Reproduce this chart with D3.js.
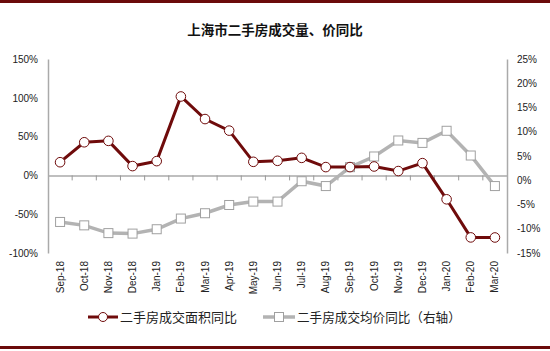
<!DOCTYPE html>
<html>
<head>
  <meta charset="utf-8">
  <script src="https://d3js.org/d3.v7.min.js"></script>
  <style>
    body { margin: 0; background: #fff; }
    svg { display: block; }
  </style>
</head>
<body>
  <svg width="550" height="351"></svg>
  <script>
    const months = ["Sep-18","Oct-18","Nov-18","Dec-18","Jan-19","Feb-19","Mar-19","Apr-19","May-19","Jun-19",
                    "Jul-19","Aug-19","Sep-19","Oct-19","Nov-19","Dec-19","Jan-20","Feb-20","Mar-20"];
    // 二手房成交面积同比 (%), left axis
    const areaYoY = [17, 42.7, 44.5, 12, 18.4, 101.7, 72.6, 57.7, 17.5, 18.8,
                     22.6, 10.7, 10.7, 11.5, 5.6, 15.8, -30.8, -79.9, -80];
    // 二手房成交均价同比 (%), right axis
    const priceYoY = [-8.6, -9.3, -10.9, -11.0, -10.1, -7.9, -6.8, -5.1, -4.4, -4.4,
                      -0.2, -1.2, 2.7, 4.9, 8.2, 7.7, 10.2, 5.1, -1.2];
    const leftTicks = [150, 100, 50, 0, -50, -100];
    const rightTicks = [25, 20, 15, 10, 5, 0, -5, -10, -15];

    const svg = d3.select("svg");
    const plot = { left: 48, right: 507, top: 59, bottom: 253 };
    const red = "#6f0b0b", gray = "#b3b3b3", frame = "#6b0a0a";
    const font = "'Liberation Sans', Arial, sans-serif";
    const cjk = "'Noto Sans CJK SC', sans-serif";

    // frame lines
    svg.append("rect").attr("x", 0).attr("y", 0).attr("width", 550).attr("height", 3).attr("fill", frame);
    svg.append("rect").attr("x", 0).attr("y", 346).attr("width", 550).attr("height", 3).attr("fill", frame);

    svg.append("text").attr("x", 275).attr("y", 35).attr("text-anchor", "middle")
      .attr("font-family", cjk).attr("font-size", 13.5).attr("font-weight", "bold").attr("fill", "#111")
      .text("上海市二手房成交量、价同比");

    const x = d3.scaleBand().domain(months).range([plot.left, plot.right]);
    const yL = d3.scaleLinear().domain([-100, 150]).range([plot.bottom, plot.top]);
    const yR = d3.scaleLinear().domain([-15, 25]).range([plot.bottom, plot.top]);

    // axes
    const la = svg.append("g").attr("transform", `translate(${plot.left},0)`)
      .call(d3.axisLeft(yL).tickValues(leftTicks).tickFormat(d => d + "%").tickSize(0).tickPadding(10));
    const ra = svg.append("g").attr("transform", `translate(${plot.right},0)`)
      .call(d3.axisRight(yR).tickValues(rightTicks).tickFormat(d => d + "%").tickSize(0).tickPadding(10));
    [la, ra].forEach(a => {
      a.select(".domain").attr("stroke", "#aaa").attr("stroke-width", 1.5);
      a.selectAll("text").attr("font-family", font).attr("font-size", 10).attr("fill", "#222");
    });

    // zero line with ticks between categories
    const y0 = yL(0);
    const xa = svg.append("g").attr("transform", `translate(0,${y0})`)
      .call(d3.axisBottom(x).tickSize(0).tickFormat(""));
    xa.select(".domain").attr("stroke", "#aaa").attr("stroke-width", 1.5);
    svg.append("g").selectAll("line").data(months.slice(1)).join("line")
      .attr("x1", d => x(d)).attr("x2", d => x(d))
      .attr("y1", y0).attr("y2", y0 + 5).attr("stroke", "#999");

    // month labels
    svg.append("g").selectAll("text").data(months).join("text")
      .attr("transform", d => `translate(${x(d) + x.bandwidth() / 2 + 3.5},261) rotate(-90)`)
      .attr("text-anchor", "end").attr("font-family", font).attr("font-size", 10).attr("fill", "#222")
      .text(d => d);

    const cx = (d, i) => x(months[i]) + x.bandwidth() / 2;

    // price line (right axis)
    svg.append("path").datum(priceYoY)
      .attr("d", d3.line().x(cx).y(d => yR(d)))
      .attr("fill", "none").attr("stroke", gray).attr("stroke-width", 3.5);
    svg.append("g").selectAll("rect").data(priceYoY).join("rect")
      .attr("x", (d, i) => cx(d, i) - 4.5).attr("y", d => yR(d) - 4.5)
      .attr("width", 9).attr("height", 9)
      .attr("fill", "#fff").attr("stroke", "#a0a0a0").attr("stroke-width", 1);

    // area line (left axis)
    svg.append("path").datum(areaYoY)
      .attr("d", d3.line().x(cx).y(d => yL(d)))
      .attr("fill", "none").attr("stroke", red).attr("stroke-width", 3);
    svg.append("g").selectAll("circle").data(areaYoY).join("circle")
      .attr("cx", cx).attr("cy", d => yL(d)).attr("r", 4.8)
      .attr("fill", "#fff").attr("stroke", red).attr("stroke-width", 1);

    // legend
    const lg = svg.append("g").attr("transform", "translate(0,317)");
    lg.append("line").attr("x1", 88).attr("x2", 118).attr("stroke", red).attr("stroke-width", 3);
    lg.append("circle").attr("cx", 103).attr("r", 4.5).attr("fill", "#fff").attr("stroke", red);
    lg.append("text").attr("x", 120).attr("y", 4.5).attr("font-family", cjk).attr("font-size", 13).attr("fill", "#222")
      .text("二手房成交面积同比");
    lg.append("line").attr("x1", 263).attr("x2", 295).attr("stroke", gray).attr("stroke-width", 3.5);
    lg.append("rect").attr("x", 274.5).attr("y", -4.5).attr("width", 9).attr("height", 9)
      .attr("fill", "#fff").attr("stroke", "#a0a0a0");
    lg.append("text").attr("x", 297).attr("y", 4.5).attr("font-family", cjk).attr("font-size", 12.6).attr("fill", "#222")
      .text("二手房成交均价同比（右轴）");
  </script>
</body>
</html>
